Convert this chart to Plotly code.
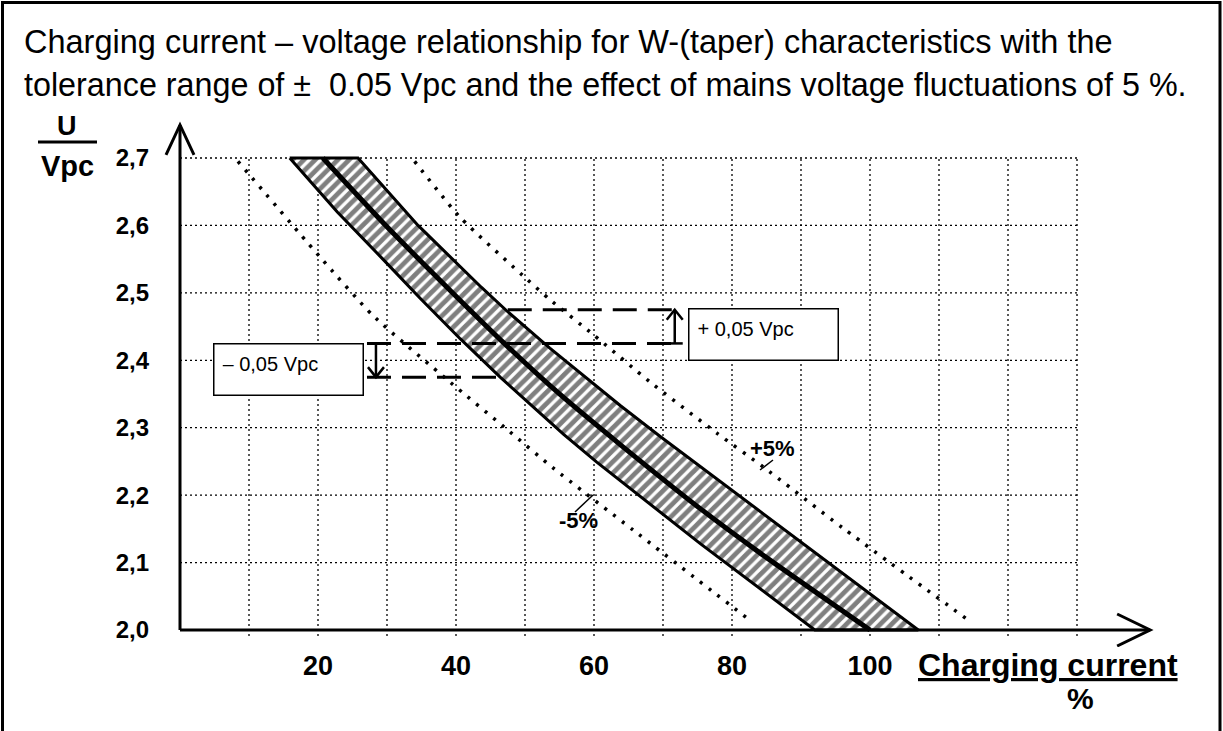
import plotly.graph_objects as go

# ---------------- data ----------------
x_tick_vals = [20, 40, 60, 80, 100]
x_tick_text = ["20", "40", "60", "80", "100"]
y_tick_vals = [2.0, 2.1, 2.2, 2.3, 2.4, 2.5, 2.6, 2.7]
y_tick_text = ["2,0", "2,1", "2,2", "2,3", "2,4", "2,5", "2,6", "2,7"]
grid_x = [10, 20, 30, 40, 50, 60, 70, 80, 90, 100, 110, 120, 130]
grid_y = [2.1, 2.2, 2.3, 2.4, 2.5, 2.6, 2.7]

# nominal W-characteristic (charging current %, voltage V/cell)
center_current = [20.7, 30.0, 40.0, 47.0, 55.0, 63.8, 75.4, 84.1, 100.0]
center_voltage = [2.700, 2.598, 2.495, 2.425, 2.350, 2.275, 2.180, 2.114, 2.000]

# tolerance band edges (-0.05 Vpc / +0.05 Vpc)
lower_current = [15.9, 22.8, 29.4, 34.8, 40.6, 46.4, 55.6, 60.4, 75.4, 92.0]
lower_voltage = [2.700, 2.620, 2.550, 2.492, 2.432, 2.375, 2.290, 2.249, 2.128, 2.000]
upper_current = [25.8, 29.4, 34.5, 43.7, 47.5, 53.6, 63.8, 69.6, 83.5, 107.0]
upper_voltage = [2.700, 2.658, 2.600, 2.508, 2.472, 2.418, 2.333, 2.287, 2.180, 2.000]

# mains voltage fluctuation curves
minus5_current = [8.4, 20.3, 28.0, 39.1, 47.8, 54.1, 65.7, 82.9]
minus5_voltage = [2.695, 2.553, 2.466, 2.368, 2.294, 2.240, 2.148, 2.012]
plus5_current = [34.0, 40.6, 50.3, 53.6, 59.9, 68.1, 77.8, 84.5, 96.1, 114.6]
plus5_voltage = [2.695, 2.612, 2.520, 2.490, 2.438, 2.368, 2.292, 2.242, 2.151, 2.012]

# tolerance annotation
nominal_voltage = 2.425
tolerance = 0.05
upper_dash_current = [47.5, 71.7]
middle_dash_current = [27.1, 71.7]
lower_dash_current = [27.1, 46.4]
minus_arrow_current = 28.4
plus_arrow_current = 71.7

axis_x_end = 140.6
axis_y_end = 2.749

# ---------------- layout geometry ----------------
W, H = 1223, 731
ML, MR, MT, MB = 150, 56, 110, 84
PX_PER_X = 6.9          # pixels per % current
PX_PER_Y = 674.3        # pixels per volt
X0_PX, Y0_PX = 180, 630  # pixel position of (0 %, 2.0 V)

xmin = (ML - X0_PX) / PX_PER_X
xmax = (W - MR - X0_PX) / PX_PER_X
ymin = 2.0 - (H - MB - Y0_PX) / PX_PER_Y
ymax = 2.0 + (Y0_PX - MT) / PX_PER_Y

PW, PH = W - ML - MR, H - MT - MB


def px(x):
    return (x - ML) / PW


def py(y):
    return 1 - (y - MT) / PH


def dx(xp):
    return (xp - X0_PX) / PX_PER_X


def dy(yp):
    return 2.0 + (Y0_PX - yp) / PX_PER_Y


FONT = "Liberation Sans, Arial, Helvetica, sans-serif"
BLACK = "#000000"

fig = go.Figure()

# grid (dotted)
gx, gy = [], []
for g in grid_x:
    gx += [g, g, None]
    gy += [1.991, 2.7, None]
fig.add_trace(go.Scatter(x=gx, y=gy, mode="lines",
                         line=dict(color=BLACK, width=1.3, dash="2px,3px"),
                         hoverinfo="skip", showlegend=False))
hx, hy = [], []
for g in grid_y:
    hx += [0, 130, None]
    hy += [g, g, None]
fig.add_trace(go.Scatter(x=hx, y=hy, mode="lines",
                         line=dict(color=BLACK, width=1.3, dash="2px,3px"),
                         hoverinfo="skip", showlegend=False))

# +/-5 % mains fluctuation curves
for cx, cy in [(minus5_current, minus5_voltage), (plus5_current, plus5_voltage)]:
    fig.add_trace(go.Scatter(x=cx, y=cy, mode="lines",
                             line=dict(color=BLACK, width=3.5, dash="3px,8px",
                                       shape="spline", smoothing=0.6),
                             hoverinfo="skip", showlegend=False))

# tolerance band (hatched)
band_x = lower_current + upper_current[::-1] + [lower_current[0]]
band_y = lower_voltage + upper_voltage[::-1] + [lower_voltage[0]]
fig.add_trace(go.Scatter(x=band_x, y=band_y, mode="lines", fill="toself",
                         fillcolor="white",
                         fillpattern=dict(shape="/", fgcolor=BLACK, bgcolor="white",
                                          size=8, solidity=0.6),
                         line=dict(color=BLACK, width=3),
                         hoverinfo="skip", showlegend=False))

# nominal characteristic
fig.add_trace(go.Scatter(x=center_current, y=center_voltage, mode="lines",
                         line=dict(color=BLACK, width=5, shape="spline", smoothing=0.6),
                         hoverinfo="skip", showlegend=False))

# dashed tolerance lines
for cur, v in [(upper_dash_current, nominal_voltage + tolerance),
               (middle_dash_current, nominal_voltage),
               (lower_dash_current, nominal_voltage - tolerance)]:
    fig.add_trace(go.Scatter(x=cur, y=[v, v], mode="lines",
                             line=dict(color=BLACK, width=3, dash="24px,11px"),
                             hoverinfo="skip", showlegend=False))

# vertical tolerance arrows
fig.add_trace(go.Scatter(x=[minus_arrow_current, minus_arrow_current],
                         y=[nominal_voltage, nominal_voltage - tolerance], mode="lines",
                         line=dict(color=BLACK, width=2.5),
                         hoverinfo="skip", showlegend=False))
fig.add_trace(go.Scatter(x=[plus_arrow_current, plus_arrow_current],
                         y=[nominal_voltage, nominal_voltage + tolerance], mode="lines",
                         line=dict(color=BLACK, width=2.5),
                         hoverinfo="skip", showlegend=False))

# axes
fig.add_trace(go.Scatter(x=[0, axis_x_end], y=[2.0, 2.0], mode="lines",
                         line=dict(color=BLACK, width=3),
                         hoverinfo="skip", showlegend=False))
fig.add_trace(go.Scatter(x=[0, 0], y=[2.0, axis_y_end], mode="lines",
                         line=dict(color=BLACK, width=3),
                         hoverinfo="skip", showlegend=False))

shapes = []


def pix_path(xa, ya, path, width=3):
    shapes.append(dict(type="path", xref="x", yref="y", xsizemode="pixel",
                       ysizemode="pixel", xanchor=xa, yanchor=ya, path=path,
                       line=dict(color=BLACK, width=width)))


# axis arrowheads
pix_path(axis_x_end, 2.0, "M-33,16 L0,0 L-33,-16", 3)
pix_path(0, axis_y_end, "M-14,-30 L0,0 L14,-30", 3)
# tolerance arrow heads and T-bars
pix_path(minus_arrow_current, nominal_voltage - tolerance, "M-8,10 L0,0 L8,10", 2.5)
pix_path(minus_arrow_current, nominal_voltage, "M-8,0 L8,0", 2.5)
pix_path(plus_arrow_current, nominal_voltage + tolerance, "M-8,-10 L0,0 L8,-10", 2.5)
pix_path(plus_arrow_current, nominal_voltage, "M-8,0 L8,0", 2.5)

# leader ticks for +5% / -5% labels
shapes.append(dict(type="line", xref="x", yref="y", x0=dx(760), y0=dy(470),
                   x1=dx(773), y1=dy(460), line=dict(color=BLACK, width=1.5)))
shapes.append(dict(type="line", xref="x", yref="y", x0=dx(575), y0=dy(512),
                   x1=dx(593), y1=dy(495), line=dict(color=BLACK, width=1.5)))

# outer frame
shapes.append(dict(type="rect", xref="paper", yref="paper", x0=px(2.5), x1=px(1220),
                   y0=py(760), y1=py(2.5), line=dict(color=BLACK, width=3),
                   fillcolor="rgba(0,0,0,0)", layer="above"))
# U / Vpc fraction bar
shapes.append(dict(type="line", xref="paper", yref="paper", x0=px(38), x1=px(97),
                   y0=py(142), y1=py(142), line=dict(color=BLACK, width=3)))

annotations = []


def text(xp, yp, s, size, bold=False, xanchor="center", yanchor="middle", **kw):
    annotations.append(dict(x=px(xp), y=py(yp), xref="paper", yref="paper",
                            text=("<b>%s</b>" % s) if bold else s, showarrow=False,
                            xanchor=xanchor, yanchor=yanchor,
                            font=dict(family=FONT, size=size, color=BLACK), **kw))


text(22, 42, "Charging current – voltage relationship for W-(taper) characteristics with the",
     32.5, xanchor="left")
text(22, 85, "tolerance range of ±&nbsp; 0.05 Vpc and the effect of mains voltage fluctuations of 5 %.",
     32.3, xanchor="left")
text(67, 126, "U", 27, bold=True)
text(67, 166, "Vpc", 29, bold=True)
text(916, 665, "<u>Charging current</u>", 32, bold=True, xanchor="left")
text(1080, 698, "%", 30, bold=True)
text(772, 448, "+5%", 22, bold=True)
text(578, 520, "-5%", 22, bold=True)

# tolerance boxes
for x_left, y_top, s in [(688, 308, "+ 0,05 Vpc"), (213, 343, "– 0,05 Vpc")]:
    annotations.append(dict(x=px(x_left), y=py(y_top), xref="paper", yref="paper",
                            text=s, showarrow=False, xanchor="left", yanchor="top",
                            align="left", valign="top", width=132, height=34,
                            borderpad=8, bordercolor=BLACK, borderwidth=1.5,
                            bgcolor="white",
                            font=dict(family=FONT, size=20, color=BLACK)))

fig.update_layout(
    width=W, height=H,
    margin=dict(l=ML, r=MR, t=MT, b=MB, pad=0),
    paper_bgcolor="white", plot_bgcolor="white",
    shapes=shapes, annotations=annotations,
    xaxis=dict(range=[xmin, xmax], showgrid=False, zeroline=False, showline=False,
               tickmode="array", tickvals=x_tick_vals, ticktext=x_tick_text,
               ticks="", tickfont=dict(family=FONT, size=27, color=BLACK, weight="bold"),
               fixedrange=True),
    yaxis=dict(range=[ymin, ymax], showgrid=False, zeroline=False, showline=False,
               tickmode="array", tickvals=y_tick_vals, ticktext=y_tick_text,
               ticks="", tickfont=dict(family=FONT, size=24, color=BLACK, weight="bold"),
               fixedrange=True),
)

fig.write_html("out.html")
